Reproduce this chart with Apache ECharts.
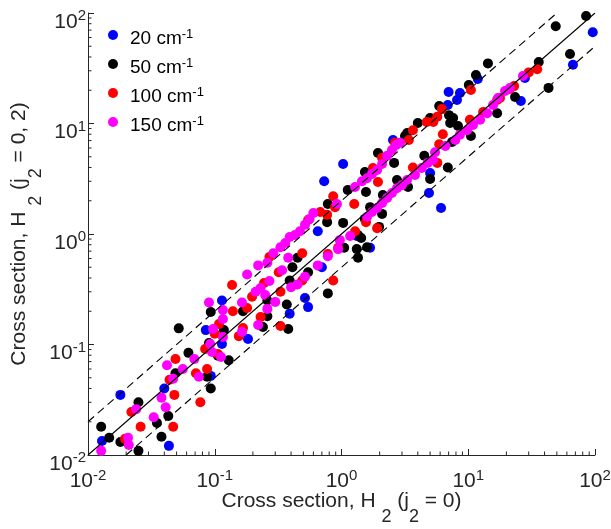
<!DOCTYPE html>
<html>
<head>
<meta charset="utf-8">
<script src="https://cdn.jsdelivr.net/npm/echarts@6/dist/echarts.min.js"></script>
<style>
  html, body { margin: 0; padding: 0; background: #fff; }
  #chart { width: 611px; height: 529px; }
</style>
</head>
<body>
<div id="chart"></div>
<script>
// data (cross sections, log-log)
const seriesNames = ['20 cm-1', '50 cm-1', '100 cm-1', '150 cm-1'];
const colors = ['#0000ff', '#000000', '#ff0000', '#ff00ff'];

const blue20 = [
  [0.018, 0.035], [0.040, 0.040], [0.0129, 0.0134], [0.0435, 0.0121], [0.114, 0.25], [0.085, 0.135],
  [0.114, 0.101], [0.183, 0.112], [0.093, 0.052],
  [2.55, 7.1], [1.03, 4.3], [0.73, 3.0], [0.65, 1.06], [1.68, 0.75], [0.70, 0.50], [0.515, 0.264],
  [0.545, 0.218], [0.39, 0.19], [1.32, 0.96],
  [11.9, 25.3], [7.0, 19.3], [8.6, 18.9], [8.15, 16.3], [6.9, 14.7], [5.0, 3.56], [4.9, 2.35], [6.1, 1.72],
  [96, 67], [67, 34], [28, 25.8], [26, 16]
];

const black50 = [
  [0.052, 0.14], [0.062, 0.084], [0.049, 0.055], [0.025, 0.030], [0.043, 0.0225], [0.035, 0.0195],
  [0.0127, 0.018], [0.0147, 0.0143], [0.018, 0.0131], [0.038, 0.0146], [0.025, 0.0109],
  [0.093, 0.197], [0.167, 0.2], [0.118, 0.135], [0.09, 0.103], [0.106, 0.079], [0.129, 0.072],
  [0.087, 0.051], [0.093, 0.040],
  [0.41, 0.50], [0.39, 0.38], [0.26, 0.25], [0.37, 0.23], [0.26, 0.18], [0.24, 0.144], [0.38, 0.138],
  [1.94, 5.4], [1.53, 3.64], [2.6, 4.4], [2.74, 3.08], [1.12, 2.5], [1.56, 2.4], [0.78, 1.87],
  [1.03, 1.26], [0.77, 1.28], [1.68, 1.75], [2.12, 2.25], [2.09, 1.52], [1.53, 1.37], [1.98, 1.16],
  [1.35, 0.98], [1.43, 0.92], [1.05, 0.75], [1.32, 0.73], [1.59, 0.76], [1.35, 0.61], [0.545, 0.45],
  [0.78, 0.29], [0.45, 0.61],
  [14.3, 35], [11.5, 27.5], [10.1, 22.3], [5.9, 14.4], [7.05, 11.9], [4.0, 10.1], [5.0, 11.2], [3.3, 8.2],
  [7.6, 11.2], [7.2, 10.1], [8.3, 9.5], [3.17, 7.7], [16.9, 12.4], [10.5, 7.7], [7.45, 6.8], [4.5, 5.1],
  [6.9, 4.0], [5.0, 3.15], [3.35, 2.66],
  [85, 94], [49, 76], [63.5, 42.6], [36, 36], [43, 21], [23.4, 17.4]
];

const red100 = [
  [0.049, 0.074], [0.044, 0.048], [0.048, 0.035], [0.022, 0.0245], [0.026, 0.018], [0.047, 0.018],
  [0.0196, 0.014],
  [0.137, 0.345], [0.139, 0.2], [0.108, 0.153], [0.10, 0.125], [0.084, 0.091], [0.155, 0.119],
  [0.071, 0.055], [0.077, 0.030], [0.106, 0.082], [0.087, 0.060], [0.167, 0.141],
  [0.27, 0.62], [0.32, 0.45], [0.245, 0.36], [0.33, 0.30], [0.197, 0.27], [0.18, 0.214], [0.23, 0.177],
  [0.33, 0.147],
  [1.77, 3.96], [1.94, 2.96], [0.86, 2.2], [1.26, 1.87], [0.89, 1.75], [0.68, 1.58], [0.77, 1.49],
  [0.545, 1.34], [1.56, 1.28], [1.91, 1.13], [1.28, 1.06], [0.78, 0.66], [0.49, 0.67], [0.49, 0.38],
  [0.86, 0.38], [0.94, 0.75], [2.09, 4.9], [2.64, 6.7],
  [10.5, 20.1], [6.2, 13.5], [5.7, 11.5], [4.7, 10.3], [5.3, 10.3], [3.66, 8.7], [3.4, 7.1], [6.3, 8.0],
  [5.9, 6.5], [5.7, 4.4], [3.66, 4.0], [16.9, 16.3], [13.1, 12.7], [10.3, 10.8],
  [35, 31], [30, 29], [23, 21.8], [21.3, 20.5], [17.8, 17]
];

const magenta150 = [
  [0.042, 0.065], [0.056, 0.060], [0.047, 0.049], [0.038, 0.033], [0.024, 0.026], [0.041, 0.027],
  [0.033, 0.022], [0.0207, 0.0143], [0.021, 0.0123], [0.0127, 0.0109],
  [0.18, 0.43], [0.09, 0.24], [0.116, 0.205], [0.164, 0.24], [0.097, 0.138], [0.116, 0.117],
  [0.095, 0.0855], [0.112, 0.077], [0.164, 0.13], [0.069, 0.074], [0.075, 0.051], [0.116, 0.17],
  [0.092, 0.101],
  [0.39, 0.94], [0.36, 0.83], [0.33, 0.76], [0.29, 0.67], [0.26, 0.55], [0.22, 0.52], [0.38, 0.61],
  [0.34, 0.47], [0.27, 0.376], [0.40, 0.33], [0.23, 0.325], [0.21, 0.30], [0.25, 0.28], [0.30, 0.243],
  [0.26, 0.21], [0.22, 0.15],
  [0.43, 0.98], [0.47, 1.06], [0.515, 1.21], [0.56, 1.37], [0.60, 1.55], [0.92, 1.87], [1.28, 2.66],
  [1.45, 3.0], [1.59, 3.2], [1.74, 3.5], [1.91, 3.8], [2.09, 4.3], [2.29, 5.1], [2.5, 5.75], [2.7, 6.4],
  [2.9, 6.7],
  [2.74, 2.6], [2.5, 2.35], [2.29, 2.12], [2.09, 1.91], [1.91, 1.72], [1.74, 1.58], [1.59, 1.43],
  [1.17, 0.96], [0.97, 0.88], [0.94, 0.73], [0.78, 0.63], [0.65, 0.52], [0.515, 0.41], [0.45, 0.35],
  [3.0, 2.77], [3.29, 3.08], [3.8, 3.42], [4.3, 3.96], [4.8, 4.4], [5.27, 4.68], [5.47, 5.5], [6.6, 6.25],
  [7.9, 7.1], [8.6, 7.9], [9.8, 8.7], [10.9, 9.7], [12.4, 10.8], [14.1, 12.4], [15.7, 14.7], [17.2, 17],
  [19.5, 19.7], [21.3, 20.9], [27, 26.9]
];

// reference lines y = x and y = 2x, y = x/2
const lineEqual = [[0.01, 0.01], [100, 100]];
const lineUpper = [[0.01, 0.02], [50, 100]];
const lineLower = [[0.02, 0.01], [100, 50]];

const axisMin = 0.01;
const axisMax = 100;

const axisColor = '#262626';
const fontFamily = '"Liberation Sans", Arial, Helvetica, sans-serif';

// minor ticks 2..9 per decade
const minorTicks = [];
for (let e = -2; e < 2; e++) {
  for (let k = 2; k <= 9; k++) minorTicks.push(k * Math.pow(10, e));
}

const chart = echarts.init(document.getElementById('chart'));

const supRich = {
  b: { fontSize: 21, lineHeight: 24, verticalAlign: 'bottom', color: axisColor, fontFamily: fontFamily },
  s: { fontSize: 15, lineHeight: 4, verticalAlign: 'top', color: axisColor, fontFamily: fontFamily }
};
const subRich = {
  b: { fontSize: 21, lineHeight: 36, verticalAlign: 'top', color: axisColor, fontFamily: fontFamily },
  sub: { fontSize: 18, lineHeight: 2, verticalAlign: 'bottom', color: axisColor, fontFamily: fontFamily }
};

const powLabel = (v) => '{b|10}{s|' + Math.round(Math.log10(v)) + '}';

function tickRender(dir) {
  return (params, api) => {
    const p = api.coord([api.value(0), api.value(1)]);
    const len = 3.5;
    return {
      type: 'line',
      shape: dir === 'x'
        ? { x1: p[0], y1: p[1], x2: p[0], y2: p[1] - len }
        : { x1: p[0], y1: p[1], x2: p[0] + len, y2: p[1] },
      style: { stroke: axisColor, lineWidth: 1 }
    };
  };
}

const scatterData = [blue20, black50, red100, magenta150];

const option = {
  animation: false,
  backgroundColor: '#fff',
  grid: { left: 88, right: 16, top: 13, bottom: 74, containLabel: false, outerBoundsMode: 'none' },
  legend: {
    data: seriesNames,
    orient: 'vertical',
    left: 108,
    top: 28,
    padding: 0,
    itemGap: 9,
    itemWidth: 10,
    itemHeight: 10,
    icon: 'circle',
    formatter: (name) => '{b|' + name.split(' ')[0] + ' cm}{s|-1}',
    textStyle: {
      padding: [6, 0, 0, 7],
      rich: {
        b: { fontSize: 19, lineHeight: 20, verticalAlign: 'bottom', color: '#000', fontFamily: fontFamily },
        s: { fontSize: 13, lineHeight: 14, verticalAlign: 'top', color: '#000', fontFamily: fontFamily }
      }
    }
  },
  xAxis: {
    type: 'log',
    logBase: 10,
    min: axisMin,
    max: axisMax,
    splitLine: { show: false },
    axisLine: { show: true, lineStyle: { color: axisColor, width: 1 } },
    axisTick: { show: true, inside: true, length: 6, lineStyle: { color: axisColor } },
    axisLabel: { margin: 13, formatter: powLabel, rich: supRich, showMinLabel: true, showMaxLabel: true },
    name: '{b|Cross section, H }{sub|2}{b| (j}{sub|2}{b| = 0)}',
    nameLocation: 'middle',
    nameGap: 35.5,
    nameMoveOverlap: false,
    nameTextStyle: { rich: subRich }
  },
  yAxis: {
    type: 'log',
    logBase: 10,
    min: axisMin,
    max: axisMax,
    splitLine: { show: false },
    axisLine: { show: true, lineStyle: { color: axisColor, width: 1 } },
    axisTick: { show: true, inside: true, length: 6, lineStyle: { color: axisColor } },
    axisLabel: { margin: 2, padding: [15, 0, 0, 0], formatter: powLabel, rich: supRich, showMinLabel: true, showMaxLabel: true },
    name: '{b|Cross section, H }{sub|2}{b| (j}{sub|2}{b| = 0, 2)}',
    nameLocation: 'middle',
    nameRotate: 90,
    nameGap: 43,
    nameMoveOverlap: false,
    nameTextStyle: { rich: subRich }
  },
  series: [
    ...scatterData.map((d, i) => ({
      name: seriesNames[i],
      type: 'scatter',
      data: d,
      symbol: 'circle',
      symbolSize: 10,
      itemStyle: { color: colors[i], opacity: 1 },
      z: 2 + i * 0.01
    })),
    {
      type: 'line', data: lineEqual, symbol: 'none', silent: true, z: 5,
      lineStyle: { color: '#000', width: 1.1 }
    },
    {
      type: 'line', data: lineUpper, symbol: 'none', silent: true, z: 5,
      lineStyle: { color: '#000', width: 1.1, type: [8, 5] }
    },
    {
      type: 'line', data: lineLower, symbol: 'none', silent: true, z: 5,
      lineStyle: { color: '#000', width: 1.1, type: [8, 5] }
    },
    {
      type: 'custom', silent: true, z: 6,
      data: minorTicks.map(v => [v, axisMin]),
      renderItem: tickRender('x')
    },
    {
      type: 'custom', silent: true, z: 6,
      data: minorTicks.map(v => [axisMin, v]),
      renderItem: tickRender('y')
    }
  ]
};

chart.setOption(option);
</script>
</body>
</html>
